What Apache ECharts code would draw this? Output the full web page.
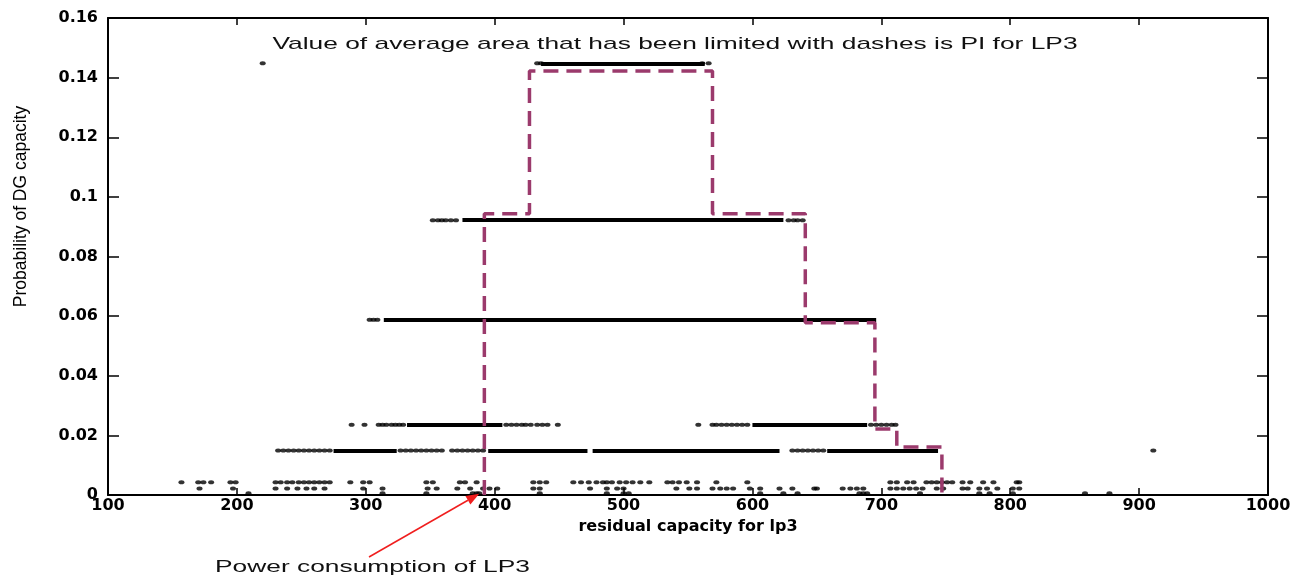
<!DOCTYPE html>
<html><head><meta charset="utf-8">
<script src="https://cdn.jsdelivr.net/npm/echarts@6/dist/echarts.min.js"></script>
<style>html,body{margin:0;padding:0;background:#fff}#c{width:1301px;height:579px}</style>
</head><body><div id="c"></div>
<script>
// ---- tick labels ----
const xTickValues = [100, 200, 300, 400, 500, 600, 700, 800, 900, 1000];
const yTickValues = [0, 0.02, 0.04, 0.06, 0.08, 0.1, 0.12, 0.14, 0.16];

// ---- dashed step (PI area boundary) ----
const stepX = [392, 392, 427, 427, 569, 569, 641, 641, 695, 695, 712, 712, 747, 747];
const stepY = [0, 0.0943, 0.0943, 0.1422, 0.1422, 0.0943, 0.0943, 0.0578, 0.0578, 0.0221, 0.0221, 0.0161, 0.0161, 0];

// ---- probability levels of the dot bands ----
const bandLevels = [0.1448, 0.0922, 0.0588, 0.0236, 0.0149];

// dense (continuous-looking) runs of dots per band, [from, to]
const band1Runs = [[436, 563]];
const band2Runs = [[375, 624]];
const band3Runs = [[314, 696]];
const band4Runs = [[332, 406], [600, 689]];
const band5Runs = [[275, 324], [395, 472], [476, 621], [658, 744]];

// separate dots per band (x values)
const band1Dots = [220, 433, 436, 561, 566];
const band2Dots = [352, 356, 359, 362, 366, 370, 628, 632, 635, 639];
const band3Dots = [303, 306, 309];
const band4Dots = [289, 299, 310, 313, 316, 320, 323, 326, 329, 409, 413, 417, 421, 424, 428, 433, 437, 441, 449,
                   558, 569, 572, 576, 580, 584, 588, 592, 596, 692, 696, 700, 704, 708, 711];
const band5Dots = [232, 236, 240, 244, 248, 252, 256, 260, 264, 268, 272, 327, 331, 335, 339, 343, 347, 351, 355, 359,
                   367, 371, 375, 379, 383, 387, 391, 631, 635, 639, 643, 647, 651, 655, 911];

// near-zero scattered dots, three rows
const lowLevels = [0.0043, 0.0022, 0.0006];
const lowRow1 = [157, 170, 174, 180, 195, 199, 230, 234, 239, 243, 248, 252, 256, 260, 264, 268, 272, 288, 298, 303,
                 347, 352, 373, 377, 386, 430, 435, 440, 461, 467, 473, 479, 484, 487, 491, 497, 502, 507, 513, 520,
                 534, 538, 543, 549, 557, 572, 596, 707, 712, 720, 725, 735, 739, 743, 747, 751, 755, 763, 769, 779, 787, 805, 807];
const lowRow2 = [171, 197, 230, 239, 247, 254, 260, 268, 298, 313, 348, 355, 371, 381, 391, 396, 402, 430, 435, 474,
                 487, 495, 500, 541, 551, 557, 569, 575, 580, 585, 598, 606, 621, 631, 648, 650, 670, 676, 681, 686,
                 707, 712, 717, 722, 727, 732, 743, 748, 763, 767, 776, 782, 790, 802, 807];
const lowRow3 = [209, 313, 347, 383, 386, 388, 435, 487, 500, 504, 606, 624, 635, 683, 686, 689, 730, 776, 784, 802, 858, 877];

// annotation texts
const titleText = 'Value of average area that has been limited with dashes is PI for LP3';
const noteText = 'Power consumption of LP3';
const notePoint = [388, 0.0004];
const xName = 'residual capacity for lp3';
const yName = 'Probability of DG capacity';

// ---- build ----
const allRuns = [band1Runs, band2Runs, band3Runs, band4Runs, band5Runs];
const allDots = [band1Dots, band2Dots, band3Dots, band4Dots, band5Dots];
const runData = [];
allRuns.forEach((runs, i) => runs.forEach(r => runData.push({ coords: [[r[0], bandLevels[i]], [r[1], bandLevels[i]]] })));
const dotData = [];
allDots.forEach((xs, i) => xs.forEach(x => dotData.push([x, bandLevels[i]])));
[lowRow1, lowRow2, lowRow3].forEach((xs, i) => xs.forEach(x => dotData.push([x, lowLevels[i]])));
const stepData = stepX.map((x, i) => [x, stepY[i]]);

const xMin = xTickValues[0], xMax = xTickValues[xTickValues.length - 1], xInt = xTickValues[1] - xTickValues[0];
const yMin = yTickValues[0], yMax = yTickValues[yTickValues.length - 1], yInt = yTickValues[1] - yTickValues[0];

const labelFont = { fontFamily: 'DejaVu Sans', fontWeight: 'bold', fontSize: 16, color: '#000' };
const lineCol = '#000';

const chart = echarts.init(document.getElementById('c'), null, { renderer: 'canvas' });
chart.setOption({
  animation: false,
  backgroundColor: '#fff',
  grid: { left: 108, right: 33, top: 18, bottom: 84, containLabel: false },
  xAxis: [
    { type: 'value', min: xMin, max: xMax, interval: xInt, position: 'bottom',
      axisLine: { show: true, lineStyle: { color: lineCol, width: 2 } },
      axisTick: { show: true, inside: true, length: 7, lineStyle: { color: lineCol, width: 1.5 } },
      axisLabel: Object.assign({ margin: 3, formatter: v => String(v) }, labelFont),
      splitLine: { show: false },
      name: xName, nameLocation: 'middle', nameGap: 19,
      nameTextStyle: { fontFamily: 'DejaVu Sans', fontWeight: 'bold', fontSize: 16, color: '#000' } },
    { type: 'value', min: xMin, max: xMax, interval: xInt, position: 'top',
      axisLine: { show: true, onZero: false, lineStyle: { color: lineCol, width: 2 } },
      axisTick: { show: true, inside: true, length: 7, lineStyle: { color: lineCol, width: 1.5 } },
      axisLabel: { show: false }, splitLine: { show: false } }
  ],
  yAxis: [
    { type: 'value', min: yMin, max: yMax, interval: yInt, position: 'left',
      axisLine: { show: true, onZero: false, lineStyle: { color: lineCol, width: 2 } },
      axisTick: { show: true, inside: true, length: 11, lineStyle: { color: lineCol, width: 1.5 } },
      axisLabel: Object.assign({ margin: 10, formatter: v => String(+v.toFixed(2)) }, labelFont),
      splitLine: { show: false },
      name: yName, nameLocation: 'middle', nameGap: 78,
      nameTextStyle: { fontFamily: 'Liberation Sans', fontSize: 17.5, color: '#000', padding: [0, 0, 0, 100] } },
    { type: 'value', min: yMin, max: yMax, interval: yInt, position: 'right',
      axisLine: { show: true, onZero: false, lineStyle: { color: lineCol, width: 2 } },
      axisTick: { show: true, inside: true, length: 11, lineStyle: { color: lineCol, width: 1.5 } },
      axisLabel: { show: false }, splitLine: { show: false } }
  ],
  series: [
    { type: 'lines', coordinateSystem: 'cartesian2d', xAxisIndex: 0, yAxisIndex: 0,
      polyline: false, data: runData, silent: true, z: 2,
      lineStyle: { color: '#000', width: 3.8, opacity: 1, curveness: 0 } },
    { type: 'scatter', xAxisIndex: 0, yAxisIndex: 0, data: dotData, symbol: 'circle', symbolSize: [6, 4],
      itemStyle: { color: '#000' }, z: 3, silent: true },
    { type: 'line', xAxisIndex: 0, yAxisIndex: 0, data: stepData, symbol: 'none', z: 5, silent: true,
      lineStyle: { color: '#9b3a6c', width: 3.5, type: [15, 8] } }
  ]
});

// annotations (title inside plot, arrow note under axis)
const tip = chart.convertToPixel({ gridIndex: 0 }, notePoint);
const tail = [369, 557];
const ang = Math.atan2(tip[1] - tail[1], tip[0] - tail[0]);
const hl = 13, hw = 5;
const base = [tip[0] - hl * Math.cos(ang), tip[1] - hl * Math.sin(ang)];
const head = [
  tip,
  [base[0] + hw * Math.sin(ang), base[1] - hw * Math.cos(ang)],
  [base[0] - hw * Math.sin(ang), base[1] + hw * Math.cos(ang)]
];
chart.setOption({
  graphic: [
    { type: 'text', x: 675, y: 44, scaleX: 1.55, scaleY: 1, z: 10,
      style: { text: titleText, fontFamily: 'Liberation Sans', fontSize: 17, fill: '#111',
               align: 'center', verticalAlign: 'middle', textAlign: 'center', textVerticalAlign: 'middle' } },
    { type: 'text', x: 215, y: 567, scaleX: 1.55, scaleY: 1, z: 10,
      style: { text: noteText, fontFamily: 'Liberation Sans', fontSize: 17, fill: '#111',
               align: 'left', verticalAlign: 'middle', textAlign: 'left', textVerticalAlign: 'middle' } },
    { type: 'line', z: 10, shape: { x1: tail[0], y1: tail[1], x2: base[0], y2: base[1] },
      style: { stroke: '#f01e1e', lineWidth: 1.5 } },
    { type: 'polygon', z: 10, shape: { points: head }, style: { fill: '#f01e1e' } }
  ]
});
</script>
</body></html>
